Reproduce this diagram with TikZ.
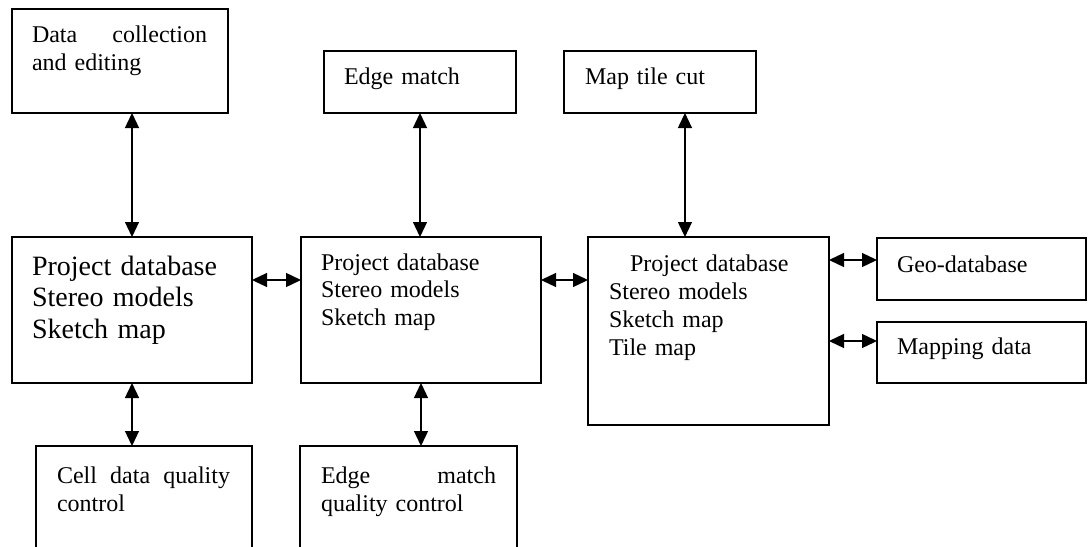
\documentclass[tikz,border=0pt]{standalone}
\usepackage{fontspec}
\setmainfont{Liberation Serif}
\usetikzlibrary{arrows.meta,calc}

\tikzset{
  box/.style={draw, line width=1.3pt, inner sep=0pt, outer sep=0pt, anchor=north west},
  label/.style={anchor=base west, inner sep=0pt, outer sep=0pt, text width=230pt, align=left},
  txt/.style={label, font=\fontsize{24}{28}\selectfont},
  bigtxt/.style={label, font=\fontsize{28}{31.5}\selectfont},
  dbl/.style={{Triangle[length=15pt,width=14pt]}-{Triangle[length=15pt,width=14pt]}, line width=1.3pt},
}

\begin{document}
\begin{tikzpicture}[x=1pt,y=-1pt]
  \clip (0,0) rectangle (1089,546);
  \fill[white] (0,0) rectangle (1089,546);

  % boxes
  \node[box, minimum width=216pt, minimum height=104pt] (dc)  at (12,9)    {};
  \node[box, minimum width=192pt, minimum height=62pt]  (em)  at (324,51)  {};
  \node[box, minimum width=192pt, minimum height=62pt]  (mtc) at (564,51)  {};
  \node[box, minimum width=240pt, minimum height=146pt] (L)   at (12,237)  {};
  \node[box, minimum width=240pt, minimum height=146pt] (M)   at (301,237) {};
  \node[box, minimum width=241pt, minimum height=188pt] (R)   at (588,237) {};
  \node[box, minimum width=209pt, minimum height=62pt]  (geo) at (877,238) {};
  \node[box, minimum width=209pt, minimum height=61pt]  (map) at (877,322) {};
  \node[box, minimum width=216pt, minimum height=130pt] (cq)  at (36,446)  {};
  \node[box, minimum width=217pt, minimum height=130pt] (emq) at (300,446) {};

  % box texts (first lines of the justified paragraphs are spread to full width)
  \node[txt] (dct) at ($(dc.north west)+(20,33)$)
    {\makebox[175pt]{Data\hfill collection}\\and editing};
  \node[txt] (emt) at ($(em.north west)+(20,33)$) {Edge match};
  \node[txt] (mtct) at ($(mtc.north west)+(21,33)$) {Map tile cut};
  \node[bigtxt] (Lt) at ($(L.north west)+(20,38)$)
    {Project database\\Stereo models\\Sketch map};
  \node[txt, font=\fontsize{24}{27.5}\selectfont] (Mt) at ($(M.north west)+(20,33)$)
    {Project database\\Stereo models\\Sketch map};
  \node[txt] (Rt) at ($(R.north west)+(21,34)$)
    {\hspace*{21pt}Project database\\Stereo models\\Sketch map\\Tile map};
  \node[txt] (geot) at ($(geo.north west)+(20,34)$) {Geo-database};
  \node[txt] (mapt) at ($(map.north west)+(20,32)$) {Mapping data};
  \node[txt, font=\fontsize{24}{28.5}\selectfont] (cqt) at ($(cq.north west)+(21,37)$)
    {\makebox[173pt]{Cell\hfill data\hfill quality}\\control};
  \node[txt, font=\fontsize{24}{28.5}\selectfont] (emqt) at ($(emq.north west)+(21,37)$)
    {\makebox[175pt]{Edge\hfill match}\\quality control};

  % vertical connectors
  \draw[dbl] (L.north |- dc.south) -- (L.north);
  \draw[dbl] (em.south) -- (em.south |- M.north);
  \coordinate (mtcx) at ($(mtc.south west)!0.63!(mtc.south east)$);
  \draw[dbl] (mtcx) -- (mtcx |- R.north);
  \draw[dbl] (L.south) -- (L.south |- cq.north);
  \draw[dbl] (M.south) -- (M.south |- emq.north);

  % horizontal connectors
  \coordinate (lm) at ($(L.north east)+(0,43)$);
  \draw[dbl] (lm) -- (lm -| M.west);
  \coordinate (mr) at ($(M.north east)+(0,43)$);
  \draw[dbl] (mr) -- (mr -| R.west);
  \coordinate (rg) at ($(R.north east)+(0,23)$);
  \draw[dbl] (rg) -- (rg -| geo.west);
  \coordinate (rm) at ($(R.north east)+(0,104)$);
  \draw[dbl] (rm) -- (rm -| map.west);
\end{tikzpicture}
\end{document}
